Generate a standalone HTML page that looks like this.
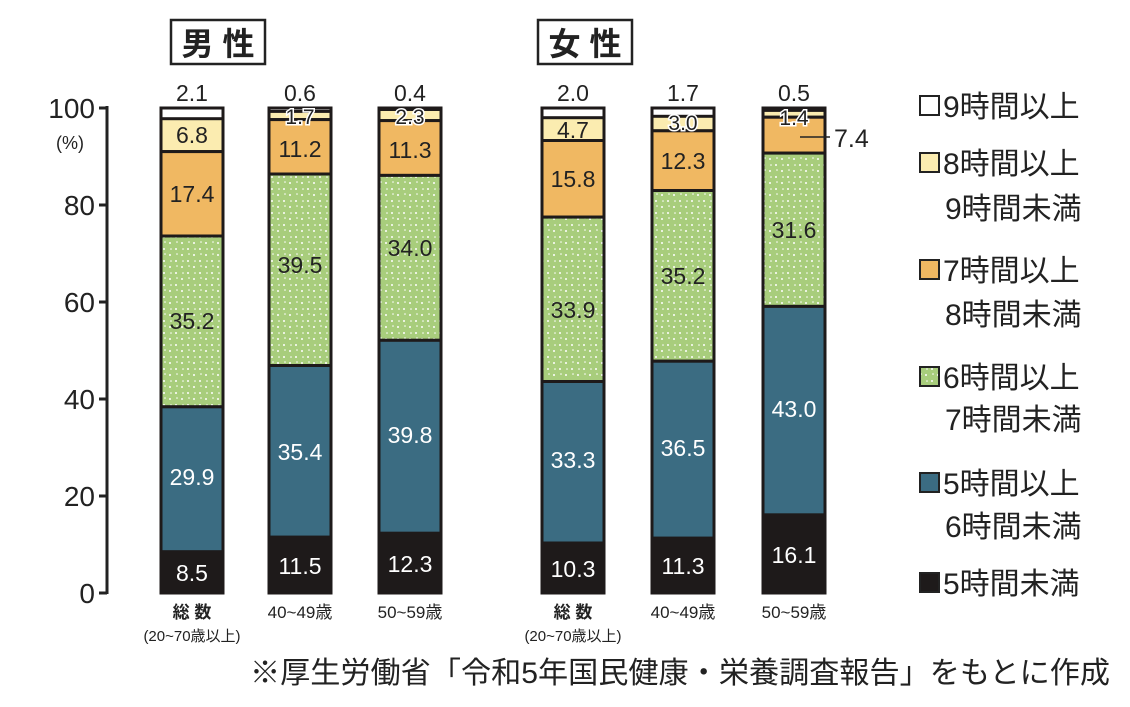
<!DOCTYPE html>
<html><head><meta charset="utf-8"><style>
body{margin:0;background:#fff;}
svg text{font-family:"Liberation Sans","Noto Sans CJK JP",sans-serif;}
</style></head><body>
<svg width="1130" height="702" viewBox="0 0 1130 702" xmlns="http://www.w3.org/2000/svg">
<defs>
<pattern id="dots" width="12" height="12" patternUnits="userSpaceOnUse">
<rect width="12" height="12" fill="#a8cd7c"/>
<circle cx="2" cy="3" r="1" fill="#fff"/><circle cx="8" cy="9" r="1" fill="#fff"/>
<circle cx="9" cy="2" r="0.8" fill="#fff"/><circle cx="3" cy="9" r="0.8" fill="#fff"/>
</pattern>
</defs>
<rect x="171" y="20" width="94" height="44" fill="#fff" stroke="#222" stroke-width="2.5"/>
<text x="218" y="55" font-size="32" font-weight="bold" text-anchor="middle" fill="#222">男 性</text>
<rect x="538" y="20" width="94" height="44" fill="#fff" stroke="#222" stroke-width="2.5"/>
<text x="585" y="55" font-size="32" font-weight="bold" text-anchor="middle" fill="#222">女 性</text>
<g stroke="#222" stroke-width="3">
<line x1="107" y1="106" x2="107" y2="594"/>
<line x1="99" y1="108" x2="107" y2="108"/><line x1="99" y1="205" x2="107" y2="205"/>
<line x1="99" y1="302" x2="107" y2="302"/><line x1="99" y1="399" x2="107" y2="399"/>
<line x1="99" y1="496" x2="107" y2="496"/><line x1="99" y1="593" x2="107" y2="593"/>
</g>
<g font-size="28" fill="#222" text-anchor="end">
<text x="95" y="118">100</text><text x="95" y="215">80</text><text x="95" y="312">60</text>
<text x="95" y="409">40</text><text x="95" y="506">20</text><text x="95" y="603">0</text>
</g>
<text x="70" y="149" font-size="18" fill="#222" text-anchor="middle">(%)</text>

<g stroke="#1e1a1a" stroke-width="3">
<rect x="161" y="108" width="62" height="485" fill="#fff"/>
<rect x="161" y="118.7" width="62" height="32.9" fill="#fbecb0"/>
<rect x="161" y="151.6" width="62" height="84.4" fill="#f0b862"/>
<rect x="161" y="236" width="62" height="170.8" fill="url(#dots)"/>
<rect x="161" y="406.8" width="62" height="145" fill="#3b6c82"/>
<rect x="161" y="551.8" width="62" height="41.2" fill="#1e1a1a"/>
<rect x="269" y="108" width="62" height="485" fill="#fff"/>
<rect x="269" y="111.4" width="62" height="8.2" fill="#fbecb0"/>
<rect x="269" y="119.6" width="62" height="54.4" fill="#f0b862"/>
<rect x="269" y="174" width="62" height="191.5" fill="url(#dots)"/>
<rect x="269" y="365.5" width="62" height="171.7" fill="#3b6c82"/>
<rect x="269" y="537.2" width="62" height="55.8" fill="#1e1a1a"/>
<rect x="379" y="108" width="62" height="485" fill="#fff"/>
<rect x="379" y="109.5" width="62" height="11.1" fill="#fbecb0"/>
<rect x="379" y="120.6" width="62" height="54.8" fill="#f0b862"/>
<rect x="379" y="175.4" width="62" height="164.9" fill="url(#dots)"/>
<rect x="379" y="340.3" width="62" height="193" fill="#3b6c82"/>
<rect x="379" y="533.3" width="62" height="59.7" fill="#1e1a1a"/>
<rect x="542" y="108" width="62" height="485" fill="#fff"/>
<rect x="542" y="117.7" width="62" height="22.8" fill="#fbecb0"/>
<rect x="542" y="140.5" width="62" height="76.6" fill="#f0b862"/>
<rect x="542" y="217.1" width="62" height="164.4" fill="url(#dots)"/>
<rect x="542" y="381.5" width="62" height="161.5" fill="#3b6c82"/>
<rect x="542" y="543" width="62" height="50" fill="#1e1a1a"/>
<rect x="652" y="108" width="62" height="485" fill="#fff"/>
<rect x="652" y="116.3" width="62" height="14.5" fill="#fbecb0"/>
<rect x="652" y="130.8" width="62" height="59.7" fill="#f0b862"/>
<rect x="652" y="190.5" width="62" height="170.7" fill="url(#dots)"/>
<rect x="652" y="361.2" width="62" height="177" fill="#3b6c82"/>
<rect x="652" y="538.2" width="62" height="54.8" fill="#1e1a1a"/>
<rect x="763" y="108" width="62" height="485" fill="#fff"/>
<rect x="763" y="110.4" width="62" height="6.8" fill="#fbecb0"/>
<rect x="763" y="117.2" width="62" height="35.9" fill="#f0b862"/>
<rect x="763" y="153.1" width="62" height="153.3" fill="url(#dots)"/>
<rect x="763" y="306.4" width="62" height="208.5" fill="#3b6c82"/>
<rect x="763" y="514.9" width="62" height="78.1" fill="#1e1a1a"/>
</g>
<line x1="800" y1="137" x2="830" y2="137" stroke="#222" stroke-width="1.5"/>
<text x="834" y="147" font-size="25" fill="#222">7.4</text>

<g font-size="23" fill="#222" text-anchor="middle">
<text x="192" y="101">2.1</text><text x="300" y="101">0.6</text><text x="410" y="101">0.4</text>
<text x="573" y="101">2.0</text><text x="683" y="101">1.7</text><text x="794" y="101">0.5</text>
</g>
<g font-size="23" fill="#222" text-anchor="middle">
<text x="192" y="143">6.8</text><text x="192" y="202">17.4</text><text x="192" y="329">35.2</text>
<text x="300" y="157">11.2</text><text x="300" y="273">39.5</text>
<text x="410" y="158">11.3</text><text x="410" y="256">34.0</text>
<text x="573" y="138">4.7</text><text x="573" y="187">15.8</text><text x="573" y="318">33.9</text>
<text x="683" y="169">12.3</text><text x="683" y="284">35.2</text>
<text x="794" y="238">31.6</text>
</g>
<g font-size="21" fill="#222" text-anchor="middle" stroke="#fff" stroke-width="3" paint-order="stroke">
<text x="300" y="124">1.7</text><text x="410" y="124">2.3</text>
<text x="683" y="130">3.0</text><text x="794" y="125">1.4</text>
</g>
<g font-size="23" fill="#fff" text-anchor="middle">
<text x="192" y="485">29.9</text><text x="300" y="460">35.4</text><text x="410" y="443">39.8</text>
<text x="573" y="468">33.3</text><text x="683" y="456">36.5</text><text x="794" y="417">43.0</text>
<text x="192" y="581">8.5</text><text x="300" y="574">11.5</text><text x="410" y="572">12.3</text>
<text x="573" y="577">10.3</text><text x="683" y="574">11.3</text><text x="794" y="563">16.1</text>
</g>
<g fill="#222" text-anchor="middle">
<text x="192" y="618" font-size="17" font-weight="bold">総 数</text>
<text x="192" y="641" font-size="15">(20~70歳以上)</text>
<text x="300" y="618" font-size="17">40~49歳</text>
<text x="410" y="618" font-size="17">50~59歳</text>
<text x="573" y="618" font-size="17" font-weight="bold">総 数</text>
<text x="573" y="641" font-size="15">(20~70歳以上)</text>
<text x="683" y="618" font-size="17">40~49歳</text>
<text x="794" y="618" font-size="17">50~59歳</text>
</g>
<g stroke="#222" stroke-width="2">
<rect x="920" y="96" width="19" height="19" fill="#fff"/>
<rect x="920" y="153" width="19" height="19" fill="#fbecb0"/>
<rect x="920" y="260" width="19" height="19" fill="#f0b862"/>
<rect x="920" y="367" width="19" height="19" fill="url(#dots)"/>
<rect x="920" y="473" width="19" height="19" fill="#3b6c82"/>
<rect x="920" y="573" width="19" height="19" fill="#1e1a1a"/>
</g>
<g font-size="30" fill="#222">
<text x="943" y="117">9時間以上</text>
<text x="943" y="174">8時間以上</text><text x="945" y="219">9時間未満</text>
<text x="943" y="281">7時間以上</text><text x="945" y="325">8時間未満</text>
<text x="943" y="388">6時間以上</text><text x="945" y="430">7時間未満</text>
<text x="943" y="494">5時間以上</text><text x="945" y="537">6時間未満</text>
<text x="943" y="594">5時間未満</text>
</g>
<text x="250" y="683" font-size="30" fill="#222" textLength="860" lengthAdjust="spacingAndGlyphs">※厚生労働省「令和5年国民健康・栄養調査報告」をもとに作成</text>
</svg>
</body></html>
